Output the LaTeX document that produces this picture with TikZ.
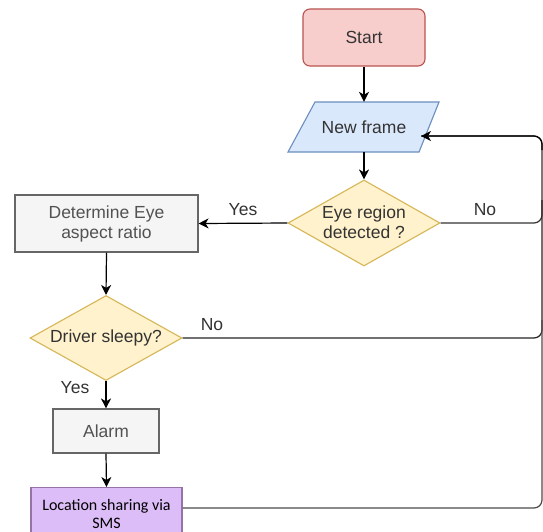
\documentclass[tikz,border=0pt]{standalone}
\usepackage{fontspec}
\setmainfont{Liberation Sans}
\newfontfamily\calib{Carlito}
\usetikzlibrary{shapes.geometric,arrows.meta}
\definecolor{txt}{HTML}{333333}
\definecolor{redf}{HTML}{F8CECC}\definecolor{redd}{HTML}{B85450}
\definecolor{bluef}{HTML}{DAE8FC}\definecolor{blued}{HTML}{6C8EBF}
\definecolor{yelf}{HTML}{FFF2CC}\definecolor{yeld}{HTML}{D6B656}
\definecolor{grayf}{HTML}{F5F5F5}\definecolor{grayd}{HTML}{666666}
\definecolor{purf}{HTML}{DCBDF7}\definecolor{purd}{HTML}{9673A6}
\tikzset{
  lbl/.style={text=txt,font=\fontsize{17.5}{20}\selectfont,inner sep=0pt},
  boxtext/.style={text=txt,font=\fontsize{17.5}{20}\selectfont,align=center},
  graybox/.style={boxtext,draw=grayd,fill=grayf,line width=1.1pt,text=grayd!80!black},
  dia/.style={diamond,draw=yeld,fill=yelf,line width=1.1pt,inner sep=0pt},
  arr/.style={line width=1.2pt,-{Stealth[length=10pt,width=10pt,inset=3pt]}},
  ln/.style={line width=1.2pt,rounded corners=8pt},
}
\begin{document}
\begin{tikzpicture}[x=1pt,y=-1pt]
\clip (0,0) rectangle (543,531);
\fill[white] (0,0) rectangle (543,531);
% Start
\node[boxtext,draw=redd,fill=redf,line width=1.1pt,rounded corners=7pt,minimum width=122pt,minimum height=57pt] (start) at (364,37.5) {Start};
% New frame parallelogram
\filldraw[draw=blued,fill=bluef,line width=1.1pt] (315,102) -- (439,102) -- (419,152) -- (288,152) -- cycle;
\node[boxtext,minimum width=100pt,minimum height=50pt,inner sep=0pt] (nf) at (364,127) {New frame};
\coordinate (nfR) at (421,136);
% Eye region diamond
\node[dia,minimum width=152pt,minimum height=86pt] (eye) at (364,223) {};
\node[boxtext,inner sep=0pt] (eyet) at (364,222) {Eye region\\detected ?};
% Determine
\node[graybox,minimum width=183pt,minimum height=57pt,inner sep=0pt] (det) at (106.5,223.5) {Determine Eye\\aspect ratio};
% Driver sleepy
\node[dia,minimum width=152pt,minimum height=85pt] (drv) at (106,338) {};
\node[boxtext,inner sep=0pt] (drvt) at (106,338) {Driver sleepy?};
% Alarm
\node[graybox,minimum width=106pt,minimum height=44pt,inner sep=0pt] (alarm) at (106,431) {Alarm};
% Location
\node[draw=purd,fill=purf,line width=1.1pt,minimum width=151pt,minimum height=62pt,inner sep=0pt,anchor=north] (loc) at (106.5,487) {};
\node[font=\calib\fontsize{16}{18}\selectfont,align=center,text=black,inner sep=0pt] (loct) at (106.5,514) {Location sharing via\\SMS};
% connectors
\draw[arr] (start) -- (nf.north);
\draw[arr] (nf.south) -- (eye.north);
\draw[arr] (eye.west) -- (det.east);
\draw[arr] (det.south) -- (drv.north);
\draw[arr] (drv.south) -- (alarm.north);
\draw[arr] (alarm.south) -- (loc.north);
\draw[ln,black!80] (eye.east) -- (542,223) -- (542,136) -- (nfR);
\draw[arr,rounded corners=8pt] (542,150) -- (542,136) -- (nfR);
\draw[ln,black!85] (drv.east) -- (542,338) -- (542,200);
\draw[ln,black!70] ([yshift=-21pt]loc.north east) -- (542,508) -- (542,320);
% labels
\node[lbl] (l1) at (243,210) {Yes};
\node[lbl] (l2) at (485,210) {No};
\node[lbl] (l3) at (212,325) {No};
\node[lbl] (l4) at (75,388) {Yes};
\end{tikzpicture}
\end{document}
